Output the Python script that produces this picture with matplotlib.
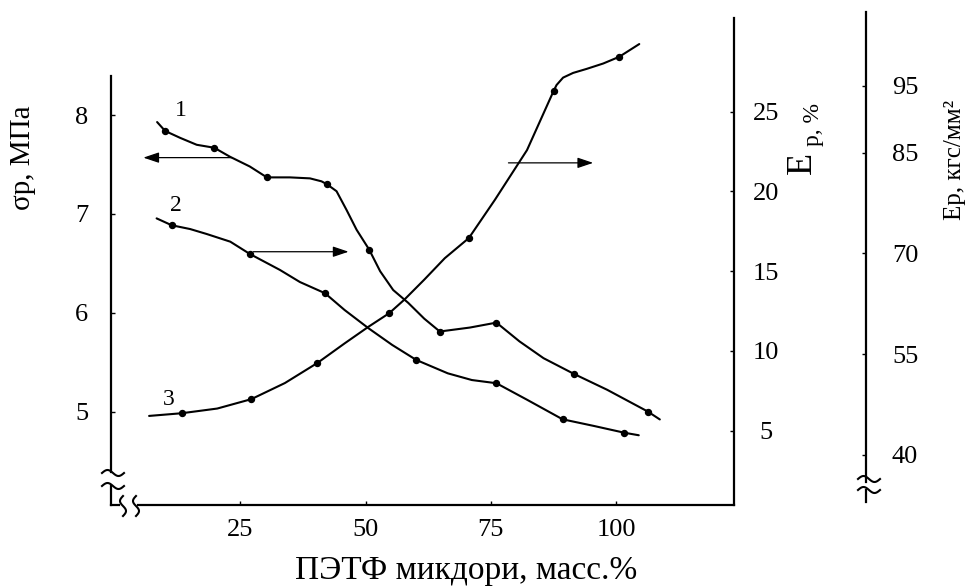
import numpy as np
import matplotlib.pyplot as plt

plt.rcParams['font.family'] = ['Liberation Serif', 'DejaVu Serif']

# curve 1: sigma_p, MPa (left axis)
c1_x = [8.4, 10.0, 13.0, 16.3, 19.8, 22.9, 26.9, 30.3, 34.9, 38.9, 41.2, 42.3, 44.2, 46.2, 48.2,
        50.7, 52.9, 55.5, 58.5, 61.7, 64.8, 70.8, 76.1, 80.7, 85.5, 91.6, 98.2, 106.3, 108.7]
c1_y = [7.93, 7.84, 7.77, 7.70, 7.67, 7.58, 7.48, 7.37, 7.37, 7.36, 7.33, 7.30, 7.23, 7.04, 6.84,
        6.64, 6.42, 6.23, 6.10, 5.94, 5.81, 5.85, 5.90, 5.71, 5.54, 5.38, 5.22, 5.00, 4.92]
c1_dot_x = [10.0, 19.8, 30.3, 42.3, 50.7, 64.8, 76.1, 91.6, 106.3]
c1_dot_y = [7.84, 7.67, 7.37, 7.30, 6.64, 5.81, 5.90, 5.38, 5.00]

# curve 2: E_p, % (first right axis)
c2_x = [8.3, 11.3, 15.0, 18.3, 23.0, 26.9, 29.9, 32.9, 36.9, 41.9, 45.8, 50.6, 55.3, 60.1,
        66.4, 71.2, 76.1, 82.3, 89.3, 95.6, 101.6, 104.5]
c2_y = [18.31, 17.88, 17.64, 17.33, 16.85, 16.08, 15.58, 15.08, 14.32, 13.62, 12.57, 11.42,
        10.38, 9.44, 8.60, 8.18, 7.98, 6.93, 5.72, 5.30, 4.88, 4.72]
c2_dot_x = [11.3, 26.9, 41.9, 60.1, 76.1, 89.3, 101.6]
c2_dot_y = [17.88, 16.08, 13.62, 9.44, 7.98, 5.72, 4.88]

# curve 3: E_p, kgf/mm2 (second right axis)
c3_x = [6.8, 13.3, 20.4, 27.2, 33.9, 40.4, 45.8, 50.6, 54.7, 57.7, 61.7, 65.8, 70.6, 75.8,
        82.2, 87.5, 88.1, 89.4, 91.4, 94.1, 97.4, 100.6, 104.6]
c3_y = [45.8, 46.2, 46.9, 48.3, 50.7, 53.7, 56.6, 59.1, 61.1, 63.1, 66.1, 69.3, 72.3, 78.0,
        85.4, 94.2, 95.1, 96.2, 96.9, 97.5, 98.3, 99.3, 101.2]
c3_dot_x = [13.3, 27.2, 40.4, 54.7, 70.6, 87.5, 100.6]
c3_dot_y = [46.2, 48.3, 53.7, 61.1, 72.3, 94.2, 99.3]

x_ticks = [25, 50, 75, 100]
s_ticks = [5, 6, 7, 8]
e_ticks = [5, 10, 15, 20, 25]
k_ticks = [40, 55, 70, 85, 95]

W, H = 976, 588
fig = plt.figure(figsize=(W / 100, H / 100), dpi=100)
ax = fig.add_axes([111 / W, 1 - 505 / H, 623 / W, 493.3 / H])
ax.set_xlim(-0.8, 123.5)
ax.set_ylim(4.054, 9.047)
ax2 = ax.twinx()
ax2.set_ylim(0.35, 31.26)
ax3 = ax.twinx()
ax3.set_ylim(32.53, 106.02)

lw_sp = 1.6
for a in (ax, ax2, ax3):
    for s in a.spines.values():
        s.set_visible(False)
        s.set_linewidth(lw_sp)
    a.patch.set_visible(False)

ax.spines['left'].set_visible(True)
ax.spines['left'].set_bounds(4.39, 8.396)
ax.spines['bottom'].set_visible(True)
ax.spines['bottom'].set_bounds(4.5, 123.5)
ax2.spines['right'].set_visible(True)
ax2.spines['right'].set_bounds(0.35, 30.86)
ax3.spines['right'].set_visible(True)
ax3.spines['right'].set_position(('axes', (866 - 111) / 623))
ax3.spines['right'].set_bounds(36.0, 106.0)

ax.set_xticks(x_ticks)
ax.set_yticks(s_ticks)
ax2.set_yticks(e_ticks)
ax3.set_yticks(k_ticks)
ax.tick_params(axis='x', direction='in', length=3, width=1, labelsize=19, pad=10)
ax.tick_params(axis='y', direction='in', length=3, width=1, labelsize=19, pad=16.5)
ax2.tick_params(axis='y', direction='in', length=3, width=1, labelsize=19, pad=23)
ax3.tick_params(axis='y', direction='in', length=3, width=1, labelsize=19, pad=18.7)
for lab in ax2.get_yticklabels():
    lab.set_ha('center')

kw = dict(color='black', lw=1.5, solid_capstyle='round', solid_joinstyle='round', clip_on=False)
ax.plot(c1_x, c1_y, **kw)
ax.plot(c1_dot_x, c1_dot_y, 'o', color='black', ms=4.3, clip_on=False)
ax2.plot(c2_x, c2_y, **kw)
ax2.plot(c2_dot_x, c2_dot_y, 'o', color='black', ms=4.3, clip_on=False)
ax3.plot(c3_x, c3_y, **kw)
ax3.plot(c3_dot_x, c3_dot_y, 'o', color='black', ms=4.3, clip_on=False)

aprops = dict(arrowstyle='-|>,head_length=0.95,head_width=0.32', mutation_scale=10,
              lw=0.9, color='black', shrinkA=0, shrinkB=0)
ax.annotate('', xy=(5.65, 7.57), xytext=(23.3, 7.57), arrowprops=aprops)
ax2.annotate('', xy=(46.6, 16.22), xytext=(27.6, 16.22), arrowprops=aprops)
ax3.annotate('', xy=(95.4, 83.5), xytext=(78.5, 83.5), arrowprops=aprops)

ax.text(13.2, 8.05, '1', fontsize=17, ha='center', va='center')
ax.text(12.2, 7.09, '2', fontsize=17, ha='center', va='center')
ax.text(10.8, 5.12, '3', fontsize=17, ha='center', va='center')


# axis break marks (small waves), sizes in pixels
def wave(xc, yc, length, amp, vertical=False):
    t = np.linspace(-1, 1, 40)
    a = t * length / 2
    b = amp * np.sin(np.pi * t)
    if vertical:
        px, py = xc + b, yc + a
    else:
        px, py = xc + a, yc + b
    fig.add_artist(plt.Line2D(px / W, 1 - py / H, color='black', lw=1.5,
                              transform=fig.transFigure))


wave(113, 473, 22, 3)
wave(113, 486, 22, 3)
wave(123, 506, 20, 3, vertical=True)
wave(136, 506, 20, 3, vertical=True)
wave(869, 479, 22, 3)
wave(869, 490, 22, 3)
fig.add_artist(plt.Line2D([111 / W, 111 / W], [1 - 486 / H, 1 - 505 / H], color='black',
                          lw=lw_sp, transform=fig.transFigure))
fig.add_artist(plt.Line2D([111 / W, 119 / W], [1 - 505 / H, 1 - 505 / H], color='black',
                          lw=lw_sp, transform=fig.transFigure))
fig.add_artist(plt.Line2D([866 / W, 866 / W], [1 - 490 / H, 1 - 502 / H], color='black',
                          lw=lw_sp, transform=fig.transFigure))

fig.text(466 / W, 1 - 579 / H, 'ПЭТФ микдори, масс.%', fontsize=24, ha='center', va='baseline')
fig.text(23 / W, 1 - 158 / H, 'σр, МПа', fontsize=21, rotation=90, ha='center', va='center')
fig.text(802 / W, 1 - 163 / H, 'E', fontsize=26, rotation=90, ha='center', va='center')
fig.text(813 / W, 1 - 124 / H, 'р, %', fontsize=17, rotation=90, ha='center', va='center')
fig.text(955 / W, 1 - 160 / H, 'Eр, кгс/мм²', fontsize=18, rotation=90, ha='center', va='center')

fig.savefig('out.png', dpi=100)
